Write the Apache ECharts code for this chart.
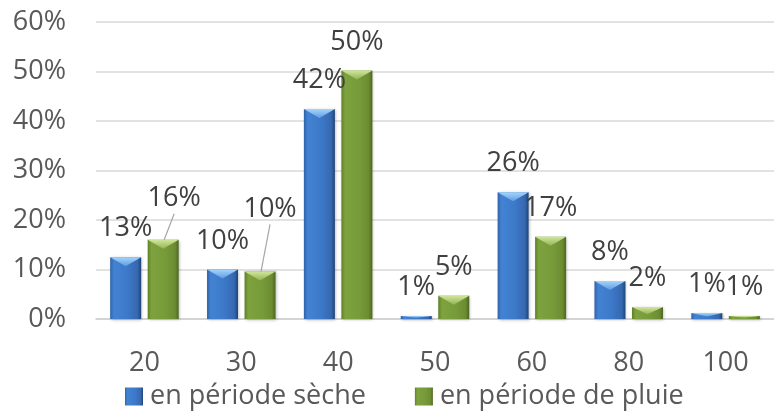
<!DOCTYPE html>
<html>
<head>
<meta charset="utf-8">
<script src="https://cdn.jsdelivr.net/npm/echarts@6/dist/echarts.min.js"></script>
<style>
  html, body { margin: 0; padding: 0; background: #ffffff; }
  #chart { width: 774px; height: 411px; }
</style>
</head>
<body>
<div id="chart"></div>
<script>
// Diameter classes (category axis)
const categories = ['20', '30', '40', '50', '60', '80', '100'];
// Share of observations per class, in percent
const drySeason = [12.5, 10.0, 42.4, 0.6, 25.6, 7.7, 1.2];
const rainySeason = [16.0, 9.6, 50.2, 4.7, 16.6, 2.4, 0.6];
const seriesNames = ['en période sèche', 'en période de pluie'];
// Value axis ticks
const yTicks = [0, 10, 20, 30, 40, 50, 60];

// Labels pulled away from their bar, with a leader line back to it
const rainyLabelShift = { 0: [11, -13], 1: [10, -34] };

const FONT = '"Open Sans", "Noto Sans", sans-serif';
const BAR_W = 31;
const BAR_GAP = 0.21;

const palette = [
  { // blue
    body: new echarts.graphic.LinearGradient(0, 0, 1, 0, [
      { offset: 0, color: '#2f63a8' },
      { offset: 0.12, color: '#4382d2' },
      { offset: 0.55, color: '#3d79c9' },
      { offset: 0.88, color: '#3668b0' },
      { offset: 1, color: '#1d4478' }
    ]),
    bevel: new echarts.graphic.LinearGradient(0, 0, 0, 1, [
      { offset: 0, color: '#a6d4fb' },
      { offset: 1, color: '#5d9de2' }
    ])
  },
  { // green
    body: new echarts.graphic.LinearGradient(0, 0, 1, 0, [
      { offset: 0, color: '#5f8027' },
      { offset: 0.12, color: '#7ea23e' },
      { offset: 0.55, color: '#789b3a' },
      { offset: 0.88, color: '#6c8c32' },
      { offset: 1, color: '#4b6620' }
    ]),
    bevel: new echarts.graphic.LinearGradient(0, 0, 0, 1, [
      { offset: 0, color: '#cfe69d' },
      { offset: 1, color: '#93b452' }
    ])
  }
];

const pct = v => Math.round(v) + '%';

function barSeries(name, values, idx, shifts) {
  return {
    name: name,
    type: 'bar',
    barWidth: BAR_W,
    barGap: (BAR_GAP * 100) + '%',
    z: 2,
    itemStyle: {
      color: palette[idx].body,
      shadowColor: 'rgba(0,0,0,0.28)',
      shadowBlur: 3,
      shadowOffsetX: 1,
      shadowOffsetY: 1
    },
    label: {
      show: true,
      position: 'top',
      distance: 15,
      fontFamily: FONT,
      fontSize: 27,
      color: '#404040',
      formatter: p => pct(p.value)
    },
    data: values.map((v, i) => shifts && shifts[i]
      ? { value: v, label: { offset: shifts[i] } }
      : v)
  };
}

// Bar x-centre offset for series idx inside its category band
function barOffset(idx) {
  const total = BAR_W * 2 + BAR_W * BAR_GAP;
  return -total / 2 + BAR_W / 2 + idx * (BAR_W + BAR_W * BAR_GAP);
}

// Light bevel facet drawn over the top of each bar
function bevelSeries(values, idx) {
  return {
    type: 'custom',
    z: 3,
    silent: true,
    renderItem: function (params, api) {
      const c = api.value(0);
      const v = api.value(1);
      const top = api.coord([c, v]);
      const base = api.coord([c, 0]);
      const cx = top[0] + barOffset(idx);
      const x0 = cx - BAR_W / 2, x1 = cx + BAR_W / 2;
      const h = base[1] - top[1];
      const d = Math.min(9, h * 0.6);
      return {
        type: 'polygon',
        shape: { points: [[x0, top[1]], [x1, top[1]], [cx, top[1] + d]] },
        style: { fill: palette[idx].bevel }
      };
    },
    data: values.map((v, i) => [i, v])
  };
}

// Leader lines from shifted labels back to the bar top
function leaderSeries(values, idx, shifts) {
  const pts = Object.keys(shifts).map(k => [Number(k), values[k]]);
  return {
    type: 'custom',
    z: 4,
    silent: true,
    renderItem: function (params, api) {
      const c = api.value(0);
      const v = api.value(1);
      const top = api.coord([c, v]);
      const cx = top[0] + barOffset(idx);
      const s = shifts[c];
      // label box bottom edge sits about 16px above its default centre line
      const yEnd = top[1] - 29 + s[1] + 16;
      return {
        type: 'line',
        shape: { x1: cx + 1, y1: top[1], x2: cx + s[0], y2: yEnd },
        style: { stroke: '#a6a6a6', lineWidth: 1.2 }
      };
    },
    data: pts
  };
}

const chart = echarts.init(document.getElementById('chart'), null, { renderer: 'canvas' });

chart.setOption({
  animation: false,
  backgroundColor: '#ffffff',
  textStyle: { fontFamily: FONT },
  grid: { left: 96, top: 22, width: 687, height: 297, containLabel: false },
  xAxis: {
    type: 'category',
    data: categories,
    axisTick: { show: false },
    axisLine: { show: true, lineStyle: { color: '#d0d0d0', width: 1.5 } },
    axisLabel: { margin: 31, fontSize: 27, color: '#595959', fontFamily: FONT }
  },
  yAxis: {
    type: 'value',
    min: yTicks[0],
    max: yTicks[yTicks.length - 1],
    interval: yTicks[1] - yTicks[0],
    axisLine: { show: false },
    axisTick: { show: false },
    splitLine: { lineStyle: { color: '#d9d9d9', width: 1.5 } },
    axisLabel: { margin: 30, fontSize: 27, color: '#595959', fontFamily: FONT, formatter: '{value}%' }
  },
  legend: {
    left: 125,
    top: 383,
    padding: 0,
    itemWidth: 18,
    itemHeight: 18,
    itemGap: 49,
    icon: 'rect',
    textStyle: { fontSize: 27, color: '#595959', fontFamily: FONT, padding: [0, 0, 0, 2] },
    data: [
      { name: seriesNames[0], itemStyle: { color: palette[0].body } },
      { name: seriesNames[1], itemStyle: { color: palette[1].body } }
    ]
  },
  series: [
    barSeries(seriesNames[0], drySeason, 0, null),
    barSeries(seriesNames[1], rainySeason, 1, rainyLabelShift),
    bevelSeries(drySeason, 0),
    bevelSeries(rainySeason, 1),
    leaderSeries(rainySeason, 1, rainyLabelShift)
  ]
});
</script>
</body>
</html>
